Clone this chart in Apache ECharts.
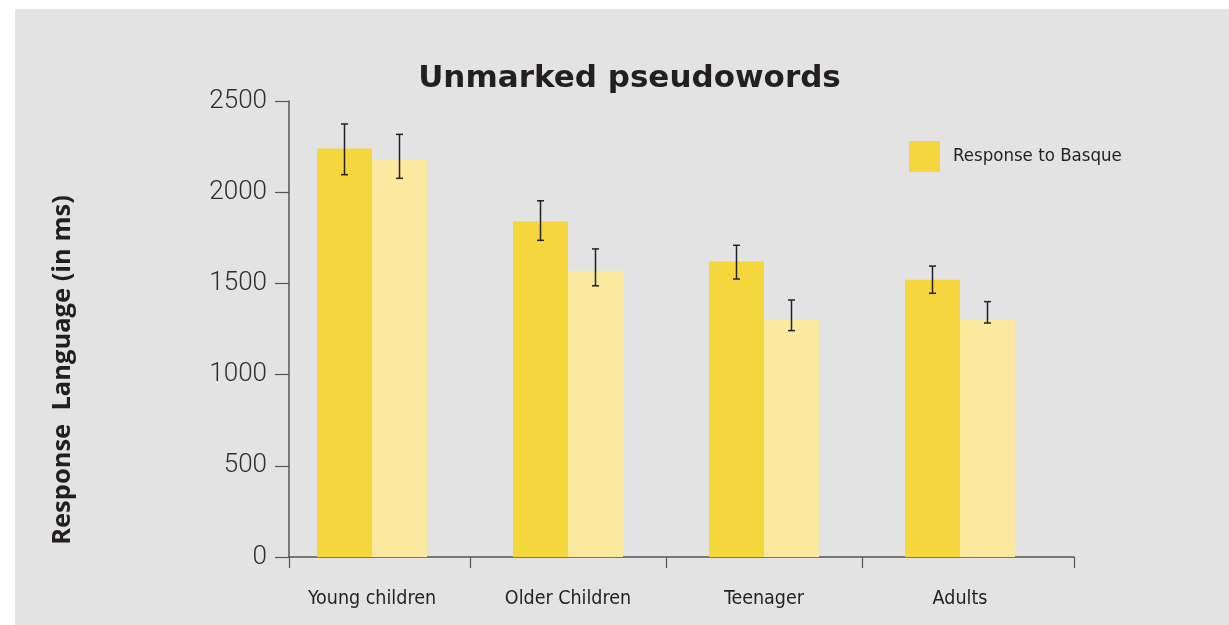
<!DOCTYPE html>
<html>
<head>
<meta charset="utf-8">
<script src="https://cdn.jsdelivr.net/npm/echarts@6/dist/echarts.min.js"></script>
<style>
  html, body { margin: 0; padding: 0; background: #ffffff; }
  #chart { width: 1229px; height: 625px; }
</style>
</head>
<body>
<div id="chart"></div>
<script>
// Mean response times (ms) by age group, with error-bar limits
const categories = ['Young children', 'Older Children', 'Teenager', 'Adults'];
const basqueMeans = [2240, 1840, 1620, 1520];
const basqueLow = [2096, 1736, 1524, 1446];
const basqueHigh = [2374, 1953, 1709, 1595];
const otherMeans = [2180, 1570, 1300, 1300];
const otherLow = [2076, 1487, 1241, 1283];
const otherHigh = [2317, 1689, 1409, 1400];
const yTicks = [0, 500, 1000, 1500, 2000, 2500];

const DARK = '#f5d63d';
const LIGHT = '#fae99e';
const INK = '#231f20';
const AXIS = '#555555';
const NARROW = "'DejaVu Sans Condensed', sans-serif";

const BAR_W = 55;

// category band geometry: bars sit in bands starting at x=274, 196px wide
const barLeft = 274, bandW = 196, axisLeft = 289, axisRight = 1074;
const xMin = -0.5 + (axisLeft - barLeft) / bandW;
const xMax = -0.5 + (axisRight - barLeft) / bandW;

function errorSeries(name, low, high, shift) {
  return {
    type: 'custom',
    name: name,
    xAxisIndex: 0,
    yAxisIndex: 0,
    z: 10,
    silent: true,
    data: categories.map((c, i) => [i, low[i], high[i]]),
    renderItem: function (params, api) {
      const i = api.value(0);
      const top = api.coord([i, api.value(2)]);
      const bot = api.coord([i, api.value(1)]);
      const x = top[0] + shift;
      const cap = 3.5;
      const style = { stroke: '#222222', lineWidth: 1.5 };
      return {
        type: 'group',
        children: [
          { type: 'line', shape: { x1: x, y1: top[1], x2: x, y2: bot[1] }, style: style },
          { type: 'line', shape: { x1: x - cap, y1: top[1], x2: x + cap, y2: top[1] }, style: style },
          { type: 'line', shape: { x1: x - cap, y1: bot[1], x2: x + cap, y2: bot[1] }, style: style }
        ]
      };
    }
  };
}

const chart = echarts.init(document.getElementById('chart'), null, { renderer: 'canvas' });

chart.setOption({
  backgroundColor: '#ffffff',
  animation: false,
  graphic: [
    {
      type: 'rect', z: -10, silent: true,
      shape: { x: 15, y: 9, width: 1214, height: 616 },
      style: { fill: '#e3e3e3' }
    },
    {
      type: 'text', silent: true,
      x: 63, y: 370, rotation: Math.PI / 2,
      style: {
        text: 'Response  Language (in ms)',
        font: "bold 25.5px 'Open Sans', sans-serif",
        fill: INK, align: 'center', verticalAlign: 'middle'
      }
    },
    {
      type: 'text', silent: true,
      x: 629.5, y: 79,
      style: {
        text: 'Unmarked pseudowords',
        font: "bold 31px 'DejaVu Sans', sans-serif",
        fill: INK, align: 'center', verticalAlign: 'middle'
      }
    }
  ],
  legend: {
    data: ['Response to Basque'],
    left: 909, top: 141, padding: 0,
    itemWidth: 31, itemHeight: 31,
    icon: 'rect',
    selectedMode: false,
    textStyle: { fontFamily: NARROW, fontSize: 18.5, color: INK, padding: [0, 0, 0, 8] }
  },
  grid: [
    { left: barLeft, width: bandW * categories.length, top: 101, bottom: 68 },
    { left: axisLeft, right: 1229 - axisRight, top: 101, bottom: 68 }
  ],
  xAxis: [
    {
      type: 'category', gridIndex: 0, data: categories,
      axisLine: { show: false }, axisTick: { show: false },
      axisLabel: { interval: 0, margin: 32, fontFamily: NARROW, fontSize: 19.5, color: INK }
    },
    {
      type: 'value', gridIndex: 1, min: xMin, max: xMax,
      axisLine: { show: true, onZero: false, lineStyle: { color: AXIS, width: 1.5 } },
      axisTick: {
        show: true, length: 11, lineStyle: { color: AXIS, width: 1.2 },
        customValues: [xMin, 0.5, 1.5, 2.5, xMax]
      },
      axisLabel: { show: false },
      splitLine: { show: false }
    }
  ],
  yAxis: [
    {
      type: 'value', gridIndex: 0, min: 0, max: 2500, interval: 500, show: false,
      splitLine: { show: false }
    },
    {
      type: 'value', gridIndex: 1, min: yTicks[0], max: yTicks[yTicks.length - 1], interval: 500,
      axisLine: { show: true, onZero: false, lineStyle: { color: AXIS, width: 1.5 } },
      axisTick: { show: true, length: 14, lineStyle: { color: AXIS, width: 1.2 } },
      axisLabel: {
        margin: 22, fontFamily: 'Roboto', fontWeight: 300, fontSize: 26, color: '#2e2e2e',
        formatter: (v) => String(v)
      },
      splitLine: { show: false }
    }
  ],
  series: [
    {
      name: 'Response to Basque', type: 'bar', xAxisIndex: 0, yAxisIndex: 0,
      data: basqueMeans, barWidth: BAR_W, barGap: '0%',
      itemStyle: { color: DARK }, silent: true
    },
    {
      name: 'Response to Spanish', type: 'bar', xAxisIndex: 0, yAxisIndex: 0,
      data: otherMeans, barWidth: BAR_W, barGap: '0%',
      itemStyle: { color: LIGHT }, silent: true
    },
    errorSeries('Basque error', basqueLow, basqueHigh, -BAR_W / 2),
    errorSeries('Spanish error', otherLow, otherHigh, BAR_W / 2)
  ]
});
</script>
</body>
</html>
